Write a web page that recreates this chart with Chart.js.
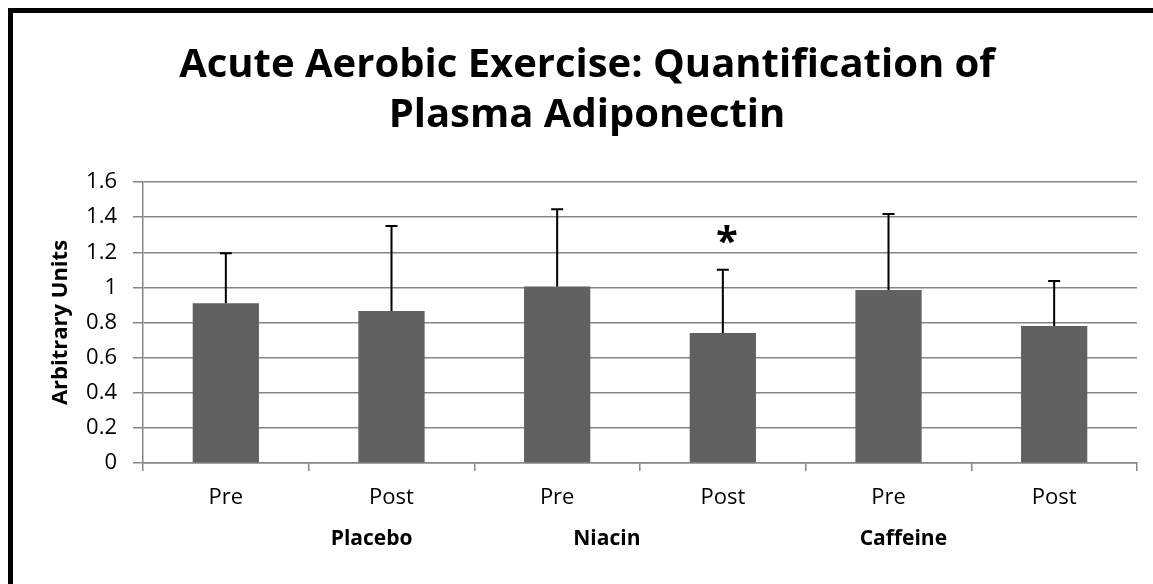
<!DOCTYPE html>
<html>
<head>
<meta charset="utf-8">
<script src="https://cdn.jsdelivr.net/npm/chart.js@4"></script>
<style>
  html, body { margin: 0; padding: 0; background: #fff; overflow: hidden; }
  #wrap { position: absolute; left: 0; top: 0; width: 1153px; height: 584px; }
  #frame { position: absolute; left: 8px; top: 8px; width: 1200px; height: 700px; border: 5px solid #000; box-sizing: border-box; pointer-events: none; }
</style>
</head>
<body>
<div id="wrap"><canvas id="barChart" width="1153" height="584"></canvas></div>
<div id="frame"></div>
<script>
// chart values
const categories = ['Pre', 'Post', 'Pre', 'Post', 'Pre', 'Post'];
const groups = ['Placebo', 'Niacin', 'Caffeine'];
const means = [0.91, 0.865, 1.005, 0.74, 0.985, 0.78];
const errors = [0.285, 0.485, 0.44, 0.36, 0.433, 0.257];
const significant = [false, false, false, true, false, false];
const yTicks = [0, 0.2, 0.4, 0.6, 0.8, 1, 1.2, 1.4, 1.6];

const FONT = "'Open Sans', sans-serif";

// error bars, upper side only, with a cap
const errorBars = {
  id: 'errorBars',
  afterDatasetsDraw(chart) {
    const ctx = chart.ctx;
    const y = chart.scales.y;
    const meta = chart.getDatasetMeta(0);
    ctx.save();
    ctx.strokeStyle = '#000';
    ctx.lineWidth = 2;
    meta.data.forEach((bar, i) => {
      const top = y.getPixelForValue(means[i] + errors[i]);
      ctx.beginPath();
      ctx.moveTo(bar.x, bar.y);
      ctx.lineTo(bar.x, top);
      ctx.moveTo(bar.x - 6, top);
      ctx.lineTo(bar.x + 6, top);
      ctx.stroke();
      if (significant[i]) {
        ctx.fillStyle = '#000';
        ctx.font = 'bold 40px ' + FONT;
        ctx.textAlign = 'center';
        ctx.textBaseline = 'middle';
        ctx.fillText('*', bar.x + 4, top - 26);
      }
    });
    ctx.restore();
  }
};

// two-line title and the group labels under the axis
const extraText = {
  id: 'extraText',
  afterDraw(chart) {
    const ctx = chart.ctx;
    const x = chart.scales.x;
    ctx.save();
    ctx.fillStyle = '#000';
    ctx.textAlign = 'center';
    ctx.textBaseline = 'alphabetic';
    ctx.font = 'bold 40px ' + FONT;
    ctx.fillText('Acute Aerobic Exercise: Quantification of', 587, 77);
    ctx.fillText('Plasma Adiponectin', 587, 127);

    ctx.font = 'bold 21px ' + FONT;
    ctx.textBaseline = 'middle';
    const at = [0.88, 2.3, 4.09];
    groups.forEach((g, i) => {
      ctx.fillText(g, x.getPixelForValue(at[i]), 539);
    });
    ctx.restore();
  }
};

const ctx = document.getElementById('barChart').getContext('2d');
new Chart(ctx, {
  type: 'bar',
  data: {
    labels: categories,
    datasets: [{
      data: means,
      backgroundColor: '#616161',
      borderWidth: 0,
      categoryPercentage: 1,
      barPercentage: 0.4
    }]
  },
  options: {
    responsive: false,
    animation: false,
    events: [],
    layout: { padding: { top: 182, right: 16, bottom: 61, left: 0 } },
    plugins: {
      legend: { display: false },
      tooltip: { enabled: false },
      title: { display: false }
    },
    scales: {
      x: {
        offset: true,
        afterFit(scale) { scale.height = 60; },
        grid: {
          offset: true,
          drawOnChartArea: false,
          drawTicks: true,
          tickLength: 8,
          color: '#868686',
          lineWidth: 1.5
        },
        border: { color: '#868686', width: 1.5 },
        ticks: {
          color: '#000',
          padding: 14,
          maxRotation: 0,
          font: { family: FONT, size: 22 }
        }
      },
      y: {
        min: 0,
        max: 1.6,
        afterFit(scale) { scale.width = 143; },
        afterBuildTicks(scale) { scale.ticks = yTicks.map(v => ({ value: v })); },
        grid: {
          color: '#868686',
          lineWidth: 1.5,
          tickLength: 10
        },
        border: { color: '#868686', width: 1.5 },
        ticks: {
          color: '#000',
          padding: 16,
          font: { family: FONT, size: 22 },
          callback: v => String(Math.round(v * 10) / 10)
        },
        title: {
          display: true,
          text: 'Arbitrary Units',
          color: '#000',
          font: { family: FONT, size: 22, weight: 'bold' },
          padding: { top: 48, bottom: 0 }
        }
      }
    }
  },
  plugins: [errorBars, extraText]
});
</script>
</body>
</html>
